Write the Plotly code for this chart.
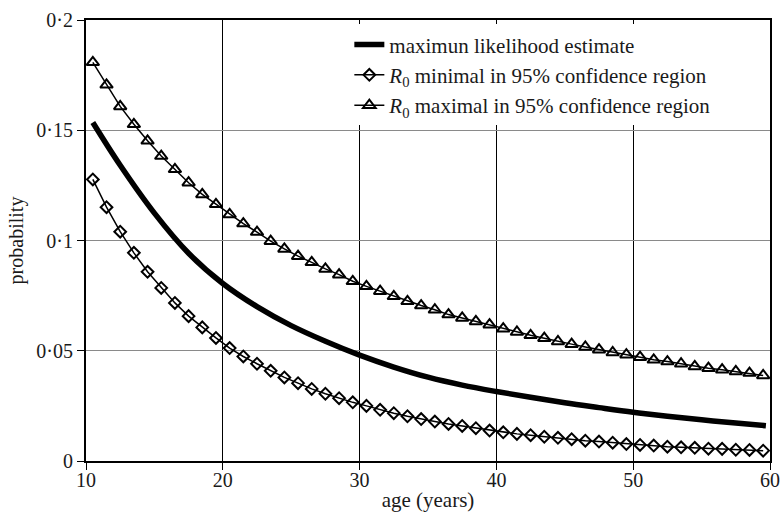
import plotly.graph_objects as go

# ages of the marked points (every year, at the half-year)
ages_markers = [10.5 + i for i in range(50)]

# R0 maximal in 95% confidence region (triangles)
p_max = [0.1808, 0.1706, 0.1608, 0.1527, 0.1452, 0.1383, 0.1323, 0.1262, 0.1209, 0.1164,
         0.1118, 0.1077, 0.1038, 0.0997, 0.0962, 0.0929, 0.0901, 0.0871, 0.0845, 0.0815,
         0.0792, 0.0770, 0.0747, 0.0724, 0.0705, 0.0686, 0.0664, 0.0649, 0.0633, 0.0618,
         0.0600, 0.0585, 0.0570, 0.0557, 0.0542, 0.0530, 0.0517, 0.0505, 0.0492, 0.0482,
         0.0471, 0.0459, 0.0451, 0.0441, 0.0429, 0.0421, 0.0414, 0.0406, 0.0399, 0.0388]

# R0 minimal in 95% confidence region (diamonds)
p_min = [0.1277, 0.1151, 0.1040, 0.0944, 0.0858, 0.0785, 0.0717, 0.0657, 0.0606, 0.0558,
         0.0512, 0.0474, 0.0441, 0.0409, 0.0379, 0.0353, 0.0327, 0.0305, 0.0285, 0.0266,
         0.0250, 0.0232, 0.0217, 0.0203, 0.0190, 0.0179, 0.0168, 0.0159, 0.0149, 0.0138,
         0.0130, 0.0123, 0.0117, 0.0110, 0.0105, 0.0099, 0.0092, 0.0088, 0.0083, 0.0077,
         0.0073, 0.0070, 0.0065, 0.0062, 0.0060, 0.0056, 0.0055, 0.0051, 0.0050, 0.0047]

# maximum likelihood estimate (thick curve)
ages_mle = [10.5, 12.5, 15, 17.5, 20, 22.5, 25, 27.5, 30, 32.5, 35, 37.5, 40,
            42.5, 45, 47.5, 50, 52.5, 55, 57.5, 59.7]
p_mle = [0.1535, 0.1341, 0.1124, 0.0942, 0.0805, 0.0700, 0.0614, 0.0543, 0.0480, 0.0426,
         0.0380, 0.0344, 0.0315, 0.0289, 0.0264, 0.0242, 0.0221, 0.0203, 0.0187, 0.0172, 0.0160]

x_ticks = [10, 20, 30, 40, 50, 60]
y_ticks = [0, 0.05, 0.1, 0.15, 0.2]
y_ticktext = ["0", "0·05", "0·1", "0·15", "0·2"]

FONT = "Liberation Serif, Times New Roman, serif"
TXT = "#1a1a1a"

fig = go.Figure()
fig.add_trace(go.Scatter(
    x=ages_mle, y=p_mle, mode="lines", name="maximun likelihood estimate",
    line=dict(color="black", width=5.5, shape="spline", smoothing=1.0)))
fig.add_trace(go.Scatter(
    x=ages_markers, y=p_min, mode="lines+markers",
    name="<i>R</i><sub>0</sub> minimal in 95% confidence region",
    line=dict(color="black", width=1.5),
    marker=dict(symbol="diamond-open", size=9, color="black", line=dict(width=2, color="black"))))
fig.add_trace(go.Scatter(
    x=ages_markers, y=p_max, mode="lines+markers",
    name="<i>R</i><sub>0</sub> maximal in 95% confidence region",
    line=dict(color="black", width=1.5),
    marker=dict(symbol="triangle-up-open", size=11, color="black", line=dict(width=2, color="black"))))

fig.update_layout(
    width=782, height=519,
    margin=dict(l=86, r=12, t=20, b=58, autoexpand=False),
    paper_bgcolor="white", plot_bgcolor="white",
    font=dict(family=FONT, size=20, color=TXT),
    showlegend=True,
    legend=dict(x=0.385, y=0.99, xanchor="left", yanchor="top",
                bgcolor="white", borderwidth=0, font=dict(family=FONT, size=21, color=TXT),
                tracegroupgap=0),
    xaxis=dict(range=[10, 60], tickvals=x_ticks, ticks="outside", ticklen=7, tickcolor="black",
               ticklabelstandoff=-7,
               showgrid=True, gridcolor="black", gridwidth=1,
               showline=True, linecolor="black", linewidth=2, mirror=True,
               zeroline=False, automargin=False,
               title=dict(text="age (years)", font=dict(family=FONT, size=21, color=TXT), standoff=2),
               tickfont=dict(family=FONT, size=20, color=TXT)),
    yaxis=dict(range=[0, 0.2], tickvals=y_ticks, ticktext=y_ticktext, ticks="outside", ticklen=7,
               tickcolor="black",
               showgrid=True, gridcolor="#8a8a8a", gridwidth=1,
               showline=True, linecolor="black", linewidth=2, mirror=True,
               zeroline=False, automargin=False,
               title=dict(text="probability", font=dict(family=FONT, size=20, color=TXT), standoff=7),
               tickfont=dict(family=FONT, size=20, color=TXT)),
)

fig.write_html("out.html")
